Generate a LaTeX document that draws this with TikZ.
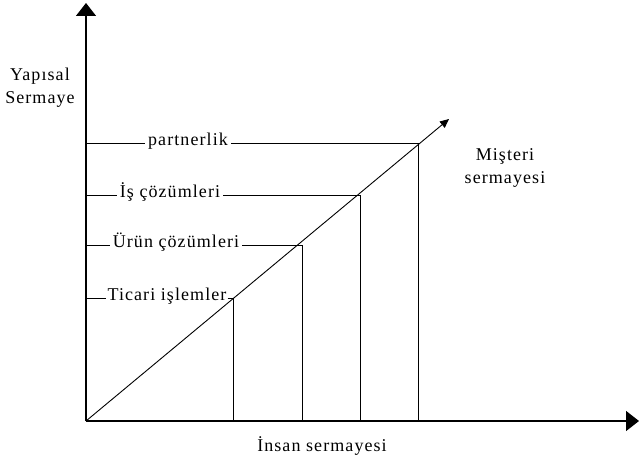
\documentclass[tikz,border=0pt]{standalone}
\usepackage{fontspec}
\setmainfont{Liberation Serif}[LetterSpace=6]
\usetikzlibrary{arrows.meta}
\begin{document}
\begin{tikzpicture}[x=1pt,y=-1pt,
  axis/.style={line width=1.3pt},
  thin/.style={line width=0.9pt},
  lbl/.style={font=\fontsize{18}{23}\selectfont, inner sep=3pt, text height=0.62em, text depth=0.05em},
  big/.style={-{Triangle[width=20pt,length=13pt]}},
  small/.style={-{Triangle[width=8pt,length=9pt]}}]
\useasboundingbox (0,0) rectangle (639,465);
\coordinate (O) at (86,421);
\coordinate (Ytop) at (86,3);
\coordinate (Xend) at (639,421);
\coordinate (D) at (449,119);
% corners
\coordinate (c1) at (418,143);
\coordinate (c2) at (360,195);
\coordinate (c3) at (302,245);
\coordinate (c4) at (233,298);
% axes
\draw[axis,big] (O) -- (Ytop);
\draw[axis,big] (O) -- (Xend);
\draw[thin,small] (O) -- (D);
% labels on levels
\node[lbl] (l1) at (188,143) {partnerlik};
\node[lbl] (l2) at (170,195) {İş çözümleri};
\node[lbl] (l3) at (176,245) {Ürün çözümleri};
\node[lbl,inner xsep=1pt] (l4) at (167,298) {Ticari işlemler};
\foreach \i in {1,2,3,4}{
  \draw[thin] (O |- c\i) -- (l\i.west);
  \draw[thin] (l\i.east) -- (c\i);
  \draw[thin] (c\i) -- (c\i |- O);
}
% axis labels
\node[lbl,align=center,text height=,text depth=] (ya) at (40,88) {Yapısal\\Sermaye};
\node[lbl,align=center,text height=,text depth=] (mu) at (505,168) {Mişteri\\sermayesi};
\node[lbl] (xa) at (322,449) {İnsan sermayesi};
\end{tikzpicture}
\end{document}
